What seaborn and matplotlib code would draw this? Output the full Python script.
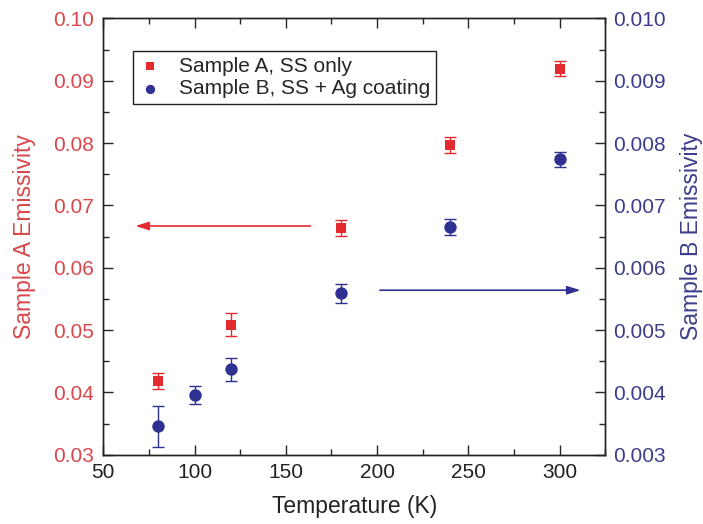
import matplotlib
matplotlib.use("Agg")
import matplotlib.pyplot as plt
from matplotlib.ticker import MultipleLocator
import seaborn as sns
import pandas as pd
import numpy as np

# sample A (left axis)
temp_a = [80, 120, 180, 240, 300]
emis_a = [0.0418, 0.0509, 0.0664, 0.0797, 0.0919]
err_a = [0.0013, 0.0018, 0.0013, 0.0013, 0.0012]

# sample B (right axis)
temp_b = [80, 100, 120, 180, 240, 300]
emis_b = [0.00346, 0.00396, 0.00437, 0.00559, 0.00666, 0.00774]
err_b = [0.00033, 0.00015, 0.00018, 0.00015, 0.00013, 0.00012]

red = "#e32a2e"
blue = "#2e3192"
red_txt = "#d9474b"
blue_txt = "#3d3d8c"

sns.set_style("ticks")
plt.rcParams['font.family'] = ['Liberation Sans', 'DejaVu Sans']

df_a = pd.DataFrame({'T': temp_a, 'e': emis_a, 'err': err_a})
df_b = pd.DataFrame({'T': temp_b, 'e': emis_b, 'err': err_b})

fig = plt.figure(figsize=(7.03, 5.24), dpi=100)
ax = fig.add_axes([0.147, 0.132, 0.714, 0.833])
ax2 = ax.twinx()

# error bars then markers
ax.errorbar(df_a['T'], df_a['e'], yerr=df_a['err'], fmt='none', ecolor=red,
            elinewidth=1.0, capsize=4, capthick=1.0, zorder=2)
sns.scatterplot(data=df_a, x='T', y='e', ax=ax, marker='s', s=60, color=red,
                edgecolor=red, linewidth=0, zorder=3, label='Sample A, SS only', legend=False)
ax2.errorbar(df_b['T'], df_b['e'], yerr=df_b['err'], fmt='none', ecolor=blue,
             elinewidth=1.0, capsize=4, capthick=1.0, zorder=2)
sns.scatterplot(data=df_b, x='T', y='e', ax=ax2, marker='o', s=80, color=blue,
                edgecolor=blue, linewidth=0, zorder=3, label='Sample B, SS + Ag coating', legend=False)

ax.set_xlim(50, 325)
ax.set_ylim(0.03, 0.10)
ax2.set_ylim(0.003, 0.010)

ax.xaxis.set_major_locator(MultipleLocator(50))
ax.xaxis.set_minor_locator(MultipleLocator(25))
ax.yaxis.set_major_locator(MultipleLocator(0.01))
ax.yaxis.set_minor_locator(MultipleLocator(0.005))
ax2.yaxis.set_major_locator(MultipleLocator(0.001))
ax2.yaxis.set_minor_locator(MultipleLocator(0.0005))
ax.yaxis.set_major_formatter(plt.FormatStrFormatter('%.2f'))
ax2.yaxis.set_major_formatter(plt.FormatStrFormatter('%.3f'))

ax.tick_params(axis='both', which='major', direction='in', length=7, width=1, labelsize=15)
ax.tick_params(axis='both', which='minor', direction='in', length=4, width=1)
ax.tick_params(axis='x', which='both', top=True)
ax.tick_params(axis='y', which='major', labelcolor=red_txt, pad=7)
ax2.tick_params(axis='y', which='major', direction='in', length=7, width=1, labelsize=15,
                labelcolor=blue_txt, pad=6)
ax2.tick_params(axis='y', which='minor', direction='in', length=4, width=1)
ax.tick_params(axis='x', labelcolor='#222222', pad=6)

for a in (ax, ax2):
    for sp in a.spines.values():
        sp.set_visible(True)
        sp.set_linewidth(1.0)
        sp.set_color('#222222')

ax.set_xlabel('Temperature (K)', fontsize=16.5, color='#222222', labelpad=9)
ax.set_ylabel('Sample A Emissivity', fontsize=16.5, color=red_txt, labelpad=12)
ax2.set_ylabel('Sample B Emissivity', fontsize=16.5, color=blue_txt, labelpad=10)

# arrows pointing to axes
ax.annotate('', xy=(66, 0.0667), xytext=(165, 0.0667),
            arrowprops=dict(arrowstyle='-|>,head_length=0.8,head_width=0.25', color=red, lw=1.2))
ax.annotate('', xy=(313, 0.0564), xytext=(200, 0.0564),
            arrowprops=dict(arrowstyle='-|>,head_length=0.8,head_width=0.25', color=blue, lw=1.2))

h1, l1 = ax.get_legend_handles_labels()
h2, l2 = ax2.get_legend_handles_labels()
leg = ax2.legend(h1 + h2, l1 + l2, loc='upper left', bbox_to_anchor=(0.059, 0.926),
                 fontsize=15, frameon=True, fancybox=False, edgecolor='#222222',
                 framealpha=1, borderpad=0.3, handletextpad=0.9, labelspacing=0.15,
                 handlelength=1.0, borderaxespad=0, markerscale=0.75)
leg.get_frame().set_linewidth(1.0)

fig.savefig('out.png', dpi=100)
